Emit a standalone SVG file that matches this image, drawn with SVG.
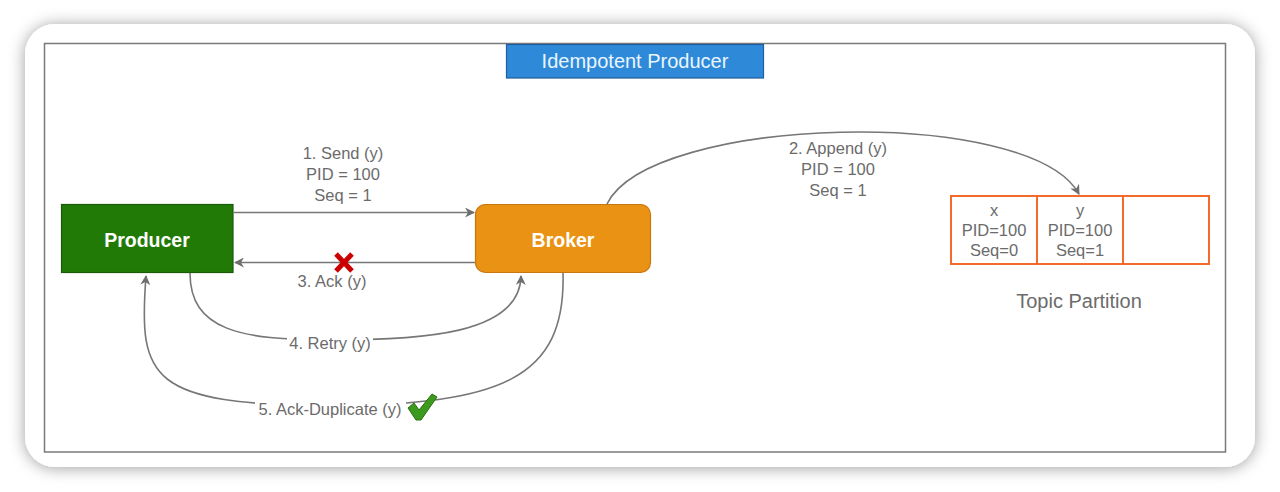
<svg xmlns="http://www.w3.org/2000/svg" width="1280" height="492" viewBox="0 0 1280 492">
  <style>
    .lbl { font-family: "Liberation Sans", Arial, sans-serif; font-size: 16.5px; fill: #6b6b6b; text-anchor: middle; }
    .cell { font-family: "Liberation Sans", Arial, sans-serif; font-size: 16.5px; fill: #6b6b6b; text-anchor: middle; }
    .node-text { font-family: "Liberation Sans", Arial, sans-serif; font-size: 19.5px; font-weight: bold; fill: #ffffff; text-anchor: middle; }
    .edge { fill: none; stroke: #777777; stroke-width: 1.6; }
    .part { fill: #ffffff; stroke: #f26b2b; stroke-width: 2; }
  </style>
  <defs>
    <filter id="shadow" x="-5%" y="-10%" width="110%" height="120%">
      <feDropShadow dx="0" dy="1" stdDeviation="8" flood-color="#000000" flood-opacity="0.38"/>
    </filter>
    <marker id="arrow" viewBox="0 0 10 10" refX="9" refY="5" markerWidth="10" markerHeight="10" markerUnits="userSpaceOnUse" orient="auto">
      <path d="M0,0 L10,5 L0,10 L3,5 z" fill="#6e6e6e"/>
    </marker>
  </defs>

  <rect x="0" y="0" width="1280" height="492" fill="#ffffff"/>
  <!-- card -->
  <rect x="25" y="24" width="1230" height="443" rx="30" ry="30" fill="#ffffff" filter="url(#shadow)"/>
  <!-- frame -->
  <rect x="44.5" y="43.5" width="1181" height="408.5" fill="#ffffff" stroke="#7a7a7a" stroke-width="1.5"/>

  <!-- title -->
  <g id="title">
    <rect x="506.5" y="44.5" width="257" height="33.5" fill="#2e8ad9" stroke="#1f5d9e" stroke-width="1.2"/>
    <text x="635" y="68" font-family="'Liberation Sans', Arial, sans-serif" font-size="20" fill="#eaf5ff" text-anchor="middle">Idempotent Producer</text>
  </g>

  <!-- connectors -->
  <g id="connectors">
    <path class="edge" d="M234,212.5 L474,212.5" marker-end="url(#arrow)"/>
    <path class="edge" d="M475,262.5 L235,262.5" marker-end="url(#arrow)"/>
    <path class="edge" d="M607,204 C650,115 1030,105 1079,194" marker-end="url(#arrow)"/>
    <path class="edge" d="M190,273 C190,330 240,340 330,340 C420,340 520,335 521,276" marker-end="url(#arrow)"/>
    <path class="edge" d="M563,273 C566,380 500,404 330,406 C150,404 138,380 146,276" marker-end="url(#arrow)"/>
    <!-- label backgrounds -->
    <rect x="287" y="334" width="86" height="18" fill="#ffffff"/>
    <rect x="255" y="399" width="151" height="18" fill="#ffffff"/>
    <text class="lbl" x="343" y="159">1. Send (y)</text>
    <text class="lbl" x="343" y="180">PID = 100</text>
    <text class="lbl" x="343" y="201">Seq = 1</text>
    <text class="lbl" x="838" y="154">2. Append (y)</text>
    <text class="lbl" x="838" y="175">PID = 100</text>
    <text class="lbl" x="838" y="196">Seq = 1</text>
    <text class="lbl" x="332" y="287">3. Ack (y)</text>
    <text class="lbl" x="330" y="349">4. Retry (y)</text>
    <text class="lbl" x="330" y="415">5. Ack-Duplicate (y)</text>
    <!-- red X -->
    <g id="fail-mark" stroke="#cc0000" stroke-width="5" stroke-linecap="butt">
      <line x1="336" y1="254" x2="352" y2="271"/>
      <line x1="352" y1="254" x2="336" y2="271"/>
    </g>
    <!-- green check -->
    <g id="ok-mark">
      <path d="M408,408 L414,403 L419,410 L432,394 L437,397 L421,420 L416,420 Z" fill="#3c9a1c" stroke="#2a6e12" stroke-width="1" stroke-linejoin="round"/>
    </g>
  </g>

  <!-- nodes -->
  <g id="producer">
    <rect x="61.5" y="204.5" width="171.5" height="68" fill="#217a05" stroke="#1a5a0a" stroke-width="1.2"/>
    <text class="node-text" x="147" y="247">Producer</text>
  </g>
  <g id="broker">
    <rect x="475.5" y="204.5" width="175" height="68" rx="10" ry="10" fill="#ea9213" stroke="#c87610" stroke-width="1.2"/>
    <text class="node-text" x="563" y="247">Broker</text>
  </g>
  <g id="topic-partition">
    <rect class="part" x="951" y="196" width="86" height="68"/>
    <rect class="part" x="1037" y="196" width="86" height="68"/>
    <rect class="part" x="1123" y="196" width="86" height="68"/>
    <text class="cell" x="994" y="216">x</text>
    <text class="cell" x="994" y="236">PID=100</text>
    <text class="cell" x="994" y="256">Seq=0</text>
    <text class="cell" x="1080" y="216">y</text>
    <text class="cell" x="1080" y="236">PID=100</text>
    <text class="cell" x="1080" y="256">Seq=1</text>
    <text x="1079" y="308" font-family="'Liberation Sans', Arial, sans-serif" font-size="20" fill="#6b6b6b" text-anchor="middle">Topic Partition</text>
  </g>
</svg>
